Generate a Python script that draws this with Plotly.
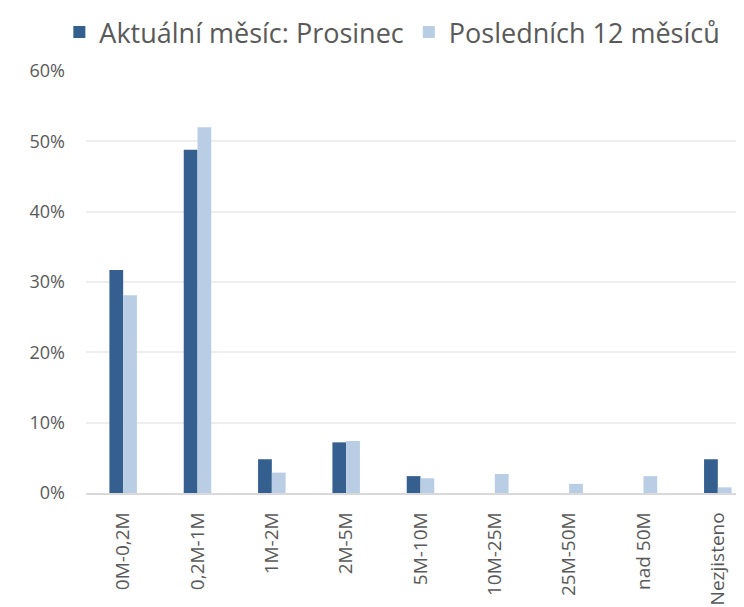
import plotly.graph_objects as go

categories = ["0M-0,2M", "0,2M-1M", "1M-2M", "2M-5M", "5M-10M", "10M-25M", "25M-50M", "nad 50M", "Nezjisteno"]
current_month = [0.317, 0.488, 0.048, 0.072, 0.024, 0.0, 0.0, 0.0, 0.048]
last_12_months = [0.281, 0.520, 0.029, 0.074, 0.021, 0.027, 0.013, 0.024, 0.008]
y_ticks = [0, 0.1, 0.2, 0.3, 0.4, 0.5, 0.6]
y_tick_labels = ["0%", "10%", "20%", "30%", "40%", "50%", "60%"]

font_family = "Open Sans, Noto Sans, sans-serif"

fig = go.Figure()
fig.add_trace(go.Bar(x=categories, y=current_month, name="Aktuální měsíc: Prosinec",
                     marker=dict(color="#355f8f", line=dict(width=0))))
fig.add_trace(go.Bar(x=categories, y=last_12_months, name="Posledních 12 měsíců",
                     marker=dict(color="#b9cde4", line=dict(width=0))))

fig.update_layout(
    width=744, height=607,
    margin=dict(l=78, r=0, t=63, b=122, autoexpand=False),
    paper_bgcolor="white", plot_bgcolor="white",
    barmode="group", bargap=0.63, bargroupgap=0,
    font=dict(family=font_family, color="#595959"),
    legend=dict(orientation="h", xref="paper", x=0.46, xanchor="center",
                yref="container", y=1.0, yanchor="top",
                font=dict(size=27, color="#595959"), itemwidth=30,
                traceorder="normal"),
    xaxis=dict(type="category", range=[-0.5, 8.46], tickangle=-90,
               tickfont=dict(size=19, color="#595959"),
               showgrid=False, showline=True, linecolor="#d9d9d9", linewidth=1.5,
               ticks="", ticklabelstandoff=10),
    yaxis=dict(range=[0, 0.6], tickvals=y_ticks, ticktext=y_tick_labels,
               tickfont=dict(size=18, color="#595959"),
               showgrid=True, gridcolor="#eeeeee", gridwidth=1.5,
               zeroline=False, showline=False, ticks="", ticklabelstandoff=20),
)

fig.write_html("out.html")
